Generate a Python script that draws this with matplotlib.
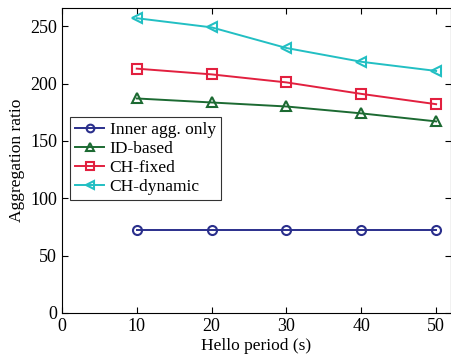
import matplotlib.pyplot as plt

plt.rcParams['font.family'] = ['Liberation Serif', 'DejaVu Serif']

hello_period = [10, 20, 30, 40, 50]
inner_agg = [72, 72, 72, 72, 72]
id_based = [187, 183.5, 180, 174, 167]
ch_fixed = [213, 208, 201, 191, 182]
ch_dynamic = [257, 249, 231, 219, 211]

labels = ['Inner agg. only', 'ID-based', 'CH-fixed', 'CH-dynamic']
colors = ['#2a2f8c', '#1c6a32', '#e2203f', '#22bfc3']
markers = ['o', '^', 's', '<']
series = [inner_agg, id_based, ch_fixed, ch_dynamic]

fig = plt.figure(figsize=(4.52, 3.58), dpi=100)
ax = fig.add_axes([0.137, 0.126, 0.861, 0.852])

for vals, lab, col, mk in zip(series, labels, colors, markers):
    ax.plot(hello_period, vals, color=col, marker=mk, markersize=6.5,
            markerfacecolor='none', markeredgewidth=1.5, linewidth=1.4,
            label=lab)

ax.set_xlim(0, 52)
ax.set_ylim(0, 266)
ax.set_xticks([0, 10, 20, 30, 40, 50])
ax.set_yticks([0, 50, 100, 150, 200, 250])
ax.tick_params(direction='in', top=True, right=True, labelsize=13, length=4)
ax.set_xlabel('Hello period (s)', fontsize=12.5, labelpad=2)
ax.set_ylabel('Aggregation ratio', fontsize=12.5)

leg = ax.legend(loc='upper left', bbox_to_anchor=(0.02, 0.642), fontsize=12.5,
                frameon=True, fancybox=False, edgecolor='black',
                handlelength=1.7, handletextpad=0.3, borderpad=0.3,
                labelspacing=0.15, borderaxespad=0, markerscale=0.85)
leg.get_frame().set_linewidth(0.8)

fig.savefig('out.png', dpi=100)
